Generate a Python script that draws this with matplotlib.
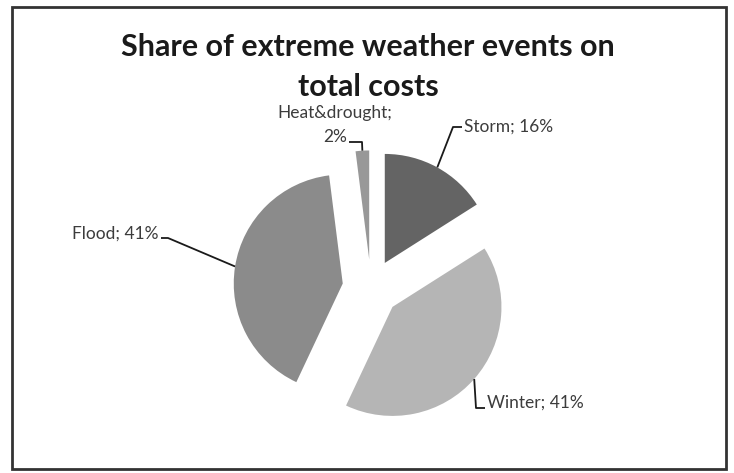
import numpy as np
import matplotlib
matplotlib.use("Agg")
import matplotlib.pyplot as plt
from matplotlib.patches import Rectangle

# ---- data ----
categories = ["Storm", "Winter", "Flood", "Heat&drought"]
shares = [16, 41, 41, 2]
label_texts = ["Storm; 16%", "Winter; 41%", "Flood; 41%", "Heat&drought;\n2%"]
title_text = "Share of extreme weather events on\ntotal costs"

# ---- style ----
colors = ["#646464", "#b5b5b5", "#8b8b8b", "#989898"]
W, H = 734, 473
fig = plt.figure(figsize=(W / 100, H / 100), dpi=100)
ax = fig.add_axes([0, 0, 1, 1])

cx, cy = 371, H - 288
radius = 109
explode_px = 28.6

wedges, _ = ax.pie(shares, colors=colors, startangle=90, counterclock=False,
                   radius=radius, center=(cx, cy),
                   explode=[explode_px] * len(shares),
                   wedgeprops=dict(linewidth=0))
ax.set_xlim(0, W)
ax.set_ylim(0, H)
ax.set_aspect("equal")
ax.axis("off")

# label layout (text anchor and knee position, in pixel coords with y down)
text_pos = [(464, 127, "left"), (487, 403, "left"), (158, 234, "right"), (335, 125, "center")]
knees = [[(453, 127), (462, 127)],
         [(476, 408), (485, 408)],
         [(168, 238), (161, 238)],
         [(362, 142), (349, 142)]]

txt_color = "#3c3c3c"
for w, lab, (tx, ty, ha), kn in zip(wedges, label_texts, text_pos, knees):
    tm = np.deg2rad((w.theta1 + w.theta2) / 2)
    px = w.center[0] + w.r * np.cos(tm)
    py = w.center[1] + w.r * np.sin(tm)
    xs = [px] + [k[0] for k in kn]
    ys = [py] + [H - k[1] for k in kn]
    ax.plot(xs, ys, color="#1a1a1a", lw=1.3, solid_capstyle="butt")
    ax.text(tx, H - ty, lab, ha=ha, va="center", fontsize=12.5,
            family="Lato", color=txt_color, linespacing=1.55,
            multialignment="center")

ax.text(368, H - 67, title_text, ha="center", va="center", fontsize=22,
        family="Lato", fontweight="bold", color="#1a1a1a", linespacing=1.5)

# outer frame
ax.add_patch(Rectangle((12, H - 469), 714, 462, fill=False,
                       edgecolor="#333333", lw=2, zorder=5))

fig.savefig("out.png", dpi=100)
